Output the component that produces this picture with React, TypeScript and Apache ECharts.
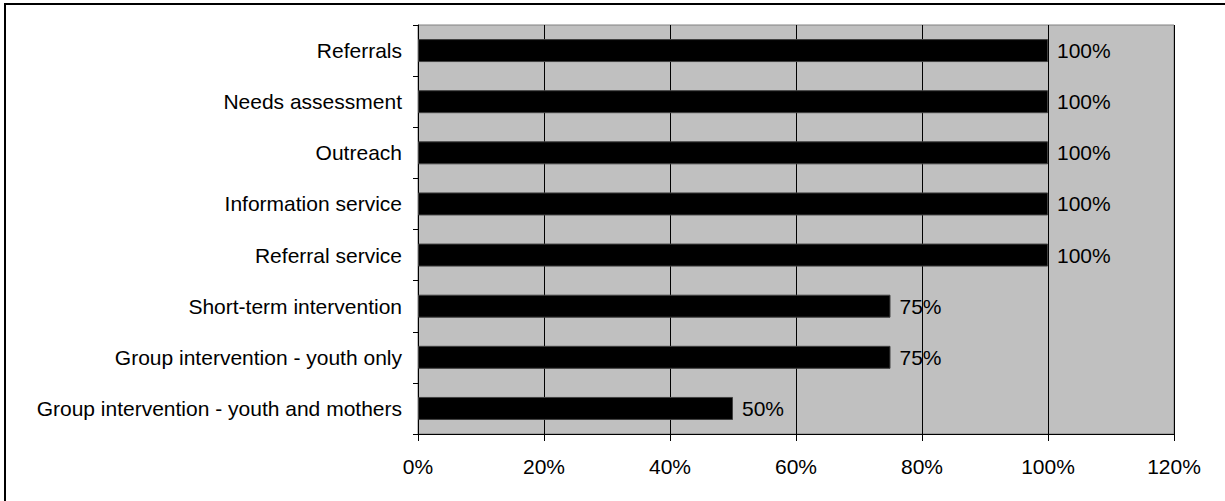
import React, { useEffect, useRef } from "react";
import * as echarts from "echarts";

const categories = [
  "Referrals",
  "Needs assessment",
  "Outreach",
  "Information service",
  "Referral service",
  "Short-term intervention",
  "Group intervention - youth only",
  "Group intervention - youth and mothers",
];
const values = [1.0, 1.0, 1.0, 1.0, 1.0, 0.75, 0.75, 0.5];
const xTicks = [0, 0.2, 0.4, 0.6, 0.8, 1.0, 1.2];

const FONT = "'Liberation Sans', Arial, sans-serif";

export default function App() {
  const ref = useRef<HTMLDivElement>(null);
  useEffect(() => {
    if (!ref.current) return;
    const chart = echarts.init(ref.current, undefined, { renderer: "svg" });
    const pct = (v: number) => `${Math.round(v * 100)}%`;
    chart.setOption({
      animation: false,
      backgroundColor: "#ffffff",
      textStyle: { fontFamily: FONT },
      graphic: [
        {
          type: "line",
          shape: { x1: 4, y1: 4, x2: 1225, y2: 4 },
          style: { stroke: "#000", lineWidth: 2 },
        },
        {
          type: "line",
          shape: { x1: 5, y1: 4, x2: 5, y2: 501 },
          style: { stroke: "#000", lineWidth: 2 },
        },
      ],
      grid: {
        left: 418,
        top: 25,
        right: 51,
        bottom: 67,
        show: true,
        backgroundColor: "#c0c0c0",
        borderColor: "#808080",
        borderWidth: 1,
      },
      xAxis: {
        type: "value",
        min: xTicks[0],
        max: xTicks[xTicks.length - 1],
        interval: 0.2,
        axisLine: { show: true, lineStyle: { color: "#000", width: 1 } },
        axisTick: { show: true, length: 7, lineStyle: { color: "#000" } },
        splitLine: { show: true, lineStyle: { color: "#000", width: 1 } },
        axisLabel: {
          formatter: (v: number) => pct(v),
          color: "#000",
          fontSize: 21,
          fontFamily: FONT,
          margin: 22,
        },
      },
      yAxis: {
        type: "category",
        data: categories,
        inverse: true,
        axisLine: { show: true, lineStyle: { color: "#000", width: 1 } },
        axisTick: { show: true, length: 5, lineStyle: { color: "#000" } },
        axisLabel: {
          color: "#000",
          fontSize: 21,
          fontFamily: FONT,
          margin: 16,
        },
      },
      series: [
        {
          type: "bar",
          data: values,
          barWidth: 23,
          itemStyle: { color: "#000", borderColor: "#404040", borderWidth: 1 },
          label: {
            show: true,
            position: "right",
            distance: 9,
            formatter: (p: any) => pct(p.value),
            color: "#000",
            fontSize: 21,
            fontFamily: FONT,
          },
        },
      ],
    });
    return () => chart.dispose();
  }, []);
  return (
    <div
      ref={ref}
      style={{ position: "fixed", left: 0, top: 0, width: 1225, height: 501 }}
    />
  );
}
